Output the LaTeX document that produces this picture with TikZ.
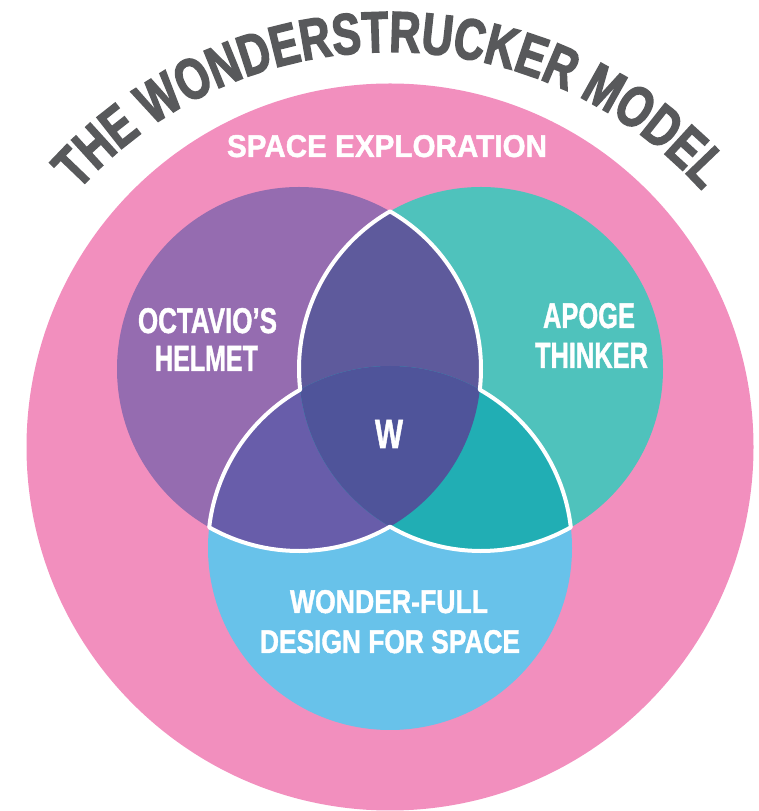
\documentclass[tikz,border=0pt]{standalone}
\usepackage{fontspec}
\usepackage{graphicx}
\usetikzlibrary{decorations.text}

\newfontfamily\headfont{Liberation Sans}[FakeStretch=0.745, FakeBold=2.4]
\newfontfamily\capsfont{Liberation Sans}[FakeBold=1.4]

\definecolor{outerpink}{RGB}{242,143,190}
\definecolor{helmetpurple}{RGB}{149,108,176}
\definecolor{apogeteal}{RGB}{79,194,188}
\definecolor{designblue}{RGB}{104,194,234}
\definecolor{lensPT}{RGB}{94,90,156}
\definecolor{lensPB}{RGB}{104,93,170}
\definecolor{lensTB}{RGB}{33,174,180}
\definecolor{coreW}{RGB}{79,84,154}
\definecolor{titlegray}{RGB}{88,89,91}

% white bold caps squeezed into a box of given width and cap height
\newcommand\capsbox[3]{\resizebox{#1pt}{#2pt}{\capsfont\bfseries #3}}

\begin{document}
\begin{tikzpicture}[x=1pt,y=1pt,
  lbl/.style={text=white, inner sep=0pt, anchor=base},
  seam/.style={draw=white, line width=4pt, line join=round}]
\useasboundingbox (0,0) rectangle (759,811);

% centres of the three sets
\coordinate (P) at (299,442);
\coordinate (T) at (481,442);
\coordinate (B) at (390,263);
\def\rr{182}

% outer set
\fill[outerpink] (390,364) circle[radius=363.5];

% the three sets
\fill[helmetpurple] (P) circle[radius=\rr];
\fill[apogeteal] (T) circle[radius=\rr];
\fill[designblue] (B) circle[radius=\rr];

% pairwise overlaps
\begin{scope}
  \clip (P) circle[radius=\rr];
  \fill[lensPT] (T) circle[radius=\rr];
  \fill[lensPB] (B) circle[radius=\rr];
\end{scope}
\begin{scope}
  \clip (T) circle[radius=\rr];
  \fill[lensTB] (B) circle[radius=\rr];
\end{scope}
% triple overlap
\begin{scope}
  \clip (P) circle[radius=\rr];
  \clip (T) circle[radius=\rr];
  \fill[coreW] (B) circle[radius=\rr];
\end{scope}

% white outline round the overlapping zone
\draw[seam] (390,599.6)
  arc[start angle=120, end angle=186.53, radius=\rr]
  arc[start angle=119.57, end angle=173.47, radius=\rr]
  arc[start angle=240.43, end angle=300, radius=\rr]
  arc[start angle=240, end angle=299.57, radius=\rr]
  arc[start angle=6.53, end angle=60.43, radius=\rr]
  arc[start angle=-6.53, end angle=60, radius=\rr]
  -- cycle;

% curved title
\path[decorate, decoration={text along path,
    text={|\headfont\bfseries\fontsize{58}{58}\selectfont|THE WONDERSTRUCKER MODEL},
    text align=center, text color=titlegray}]
  (-30,339) arc[start angle=180, end angle=0, radius=420];

% labels
\node[lbl] (space) at (387,654) {\capsbox{320}{22}{SPACE EXPLORATION}};
\node[lbl] (oct1) at (207.5,478) {\capsbox{139}{25}{OCTAVIO’S}};
\node[lbl] (oct2) at (206.5,440) {\capsbox{103}{25}{HELMET}};
\node[lbl] (apo1) at (589,483) {\capsbox{92}{25}{APOGE}};
\node[lbl] (apo2) at (591.5,443) {\capsbox{113}{25}{THINKER}};
\node[lbl] (core) at (389,363) {\capsbox{28}{28}{W}};
\node[lbl] (des1) at (389,198) {\capsbox{198}{23}{WONDER-FULL}};
\node[lbl] (des2) at (390,158) {\capsbox{260}{23}{DESIGN FOR SPACE}};
\end{tikzpicture}
\end{document}
